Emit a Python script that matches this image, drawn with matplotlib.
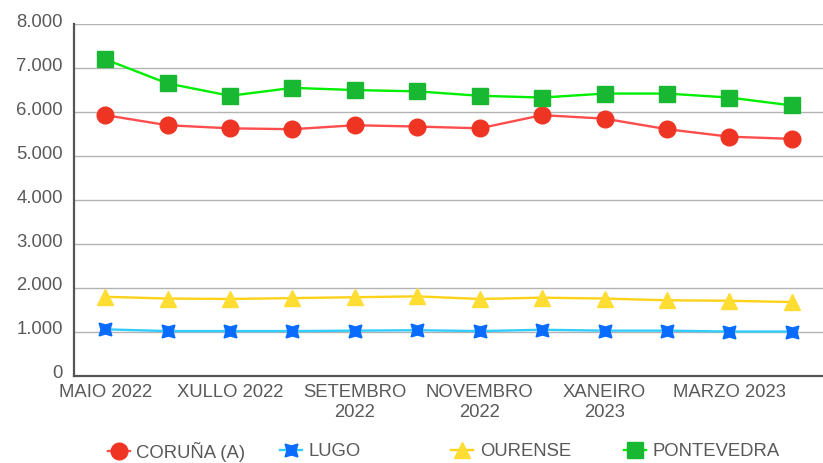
import matplotlib
matplotlib.use("Agg")
import matplotlib.pyplot as plt
import matplotlib.transforms as mtransforms
from matplotlib.ticker import FuncFormatter
from matplotlib.lines import Line2D

# Datos mensuais (maio 2022 - abril 2023)
months = ["MAIO 2022", "XUÑO 2022", "XULLO 2022", "AGOSTO 2022", "SETEMBRO\n2022",
          "OUTUBRO 2022", "NOVEMBRO\n2022", "DECEMBRO 2022", "XANEIRO\n2023",
          "FEBREIRO 2023", "MARZO 2023", "ABRIL 2023"]
coruna = [5930, 5700, 5630, 5610, 5700, 5670, 5630, 5930, 5850, 5610, 5440, 5390]
lugo = [1060, 1020, 1020, 1020, 1030, 1040, 1020, 1050, 1030, 1030, 1010, 1010]
ourense = [1800, 1760, 1750, 1770, 1790, 1810, 1750, 1780, 1760, 1720, 1710, 1680]
pontevedra = [7200, 6650, 6370, 6550, 6500, 6470, 6370, 6330, 6420, 6420, 6330, 6150]

plt.rcParams['font.family'] = ['Liberation Sans', 'DejaVu Sans']
txt = '#595959'
fs = 13.3

fig = plt.figure(figsize=(8.23, 4.63), dpi=100)
ax = fig.add_axes([0.0899, 0.188, 0.9101, 0.760])

x = list(range(len(months)))
series = [
    ('CORUÑA (A)', coruna, '#ff4d4d', '#ee3524', 'o', 12),
    ('LUGO', lugo, '#33ccff', '#0a6cff', (4, 1, 45), 13),
    ('OURENSE', ourense, '#ffd21a', '#ffdd33', '^', 12),
    ('PONTEVEDRA', pontevedra, '#00ee00', '#19b833', 's', 11),
]
handles = []
for name, vals, lc, mc, mk, ms in series:
    ax.plot(x, vals, color=lc, lw=1.7, marker=mk, markersize=ms,
            markerfacecolor=mc, markeredgecolor=mc, zorder=3)
    handles.append(Line2D([], [], color=lc, lw=1.7, marker=mk, markersize=ms,
                          markerfacecolor=mc, markeredgecolor=mc))

ax.set_xlim(-0.5, 11.5)
ax.set_ylim(0, 8000)
ax.set_yticks(range(0, 8001, 1000))
ax.yaxis.set_major_formatter(FuncFormatter(lambda v, p: f"{int(v):,}".replace(",", ".")))
ax.grid(axis='y', color='#b3b3b3', lw=1)
ax.set_axisbelow(True)

tick_idx = [0, 2, 4, 6, 8, 10]
ax.set_xticks(tick_idx)
ax.set_xticklabels([months[i] for i in tick_idx], linespacing=1.2)
ax.tick_params(axis='both', length=0, labelsize=fs, colors=txt)
ax.tick_params(axis='x', pad=6)
ax.tick_params(axis='y', pad=8)
off = mtransforms.ScaledTranslation(0, 4 / 100, fig.dpi_scale_trans)
for lbl in ax.get_yticklabels():
    lbl.set_transform(lbl.get_transform() + off)

for s in ['top', 'right']:
    ax.spines[s].set_visible(False)
ax.spines['left'].set_color('#555555')
ax.spines['left'].set_linewidth(1.6)
ax.spines['bottom'].set_color('#555555')
ax.spines['bottom'].set_linewidth(1.6)

# Lenda: catro entradas espazadas por igual
leg_x = [0.131, 0.340, 0.548, 0.758]
for h, (name, *_), lx in zip(handles, series, leg_x):
    fig.legend([h], [name], loc='center left', bbox_to_anchor=(lx, 0.024),
               frameon=False, fontsize=fs, labelcolor=txt, handlelength=1.2,
               handletextpad=0.35, borderpad=0, borderaxespad=0)

fig.savefig('out.png', dpi=100)
